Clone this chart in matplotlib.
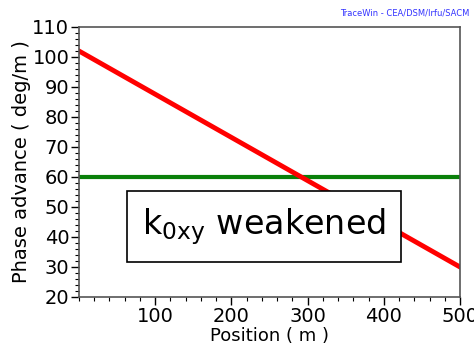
import matplotlib.pyplot as plt
from matplotlib.ticker import MultipleLocator

# data
position = [0, 500]
phase_weakened = [102, 30]
phase_nominal = [60, 60]


def plot_phase_advance():
    fig = plt.figure(figsize=(4.74, 3.55), dpi=100)
    ax = fig.add_axes([79 / 474, 1 - 297 / 355, 381 / 474, 270 / 355])

    ax.plot(position, phase_nominal, color='#0a800a', lw=3)
    ax.plot(position, phase_weakened, color='#ff0000', lw=3.5)

    ax.set_xlim(0, 500)
    ax.set_ylim(20, 110)
    ax.xaxis.set_major_locator(MultipleLocator(100))
    ax.xaxis.set_minor_locator(MultipleLocator(20))
    ax.yaxis.set_major_locator(MultipleLocator(10))
    ax.yaxis.set_minor_locator(MultipleLocator(2))
    ax.set_xticks([100, 200, 300, 400, 500])
    ax.tick_params(which='major', direction='out', length=6, width=1, labelsize=14, pad=1)
    ax.tick_params(which='minor', direction='out', length=3, width=0.8)
    for s in ax.spines.values():
        s.set_color('#555555')
        s.set_linewidth(1.2)

    ax.set_xlabel('Position ( m )', fontsize=13, labelpad=1)
    ax.set_ylabel('Phase advance ( deg/m )', fontsize=14, labelpad=1)

    ax.text(0.485, 0.26, r'k$_{\mathregular{0xy}}$ weakened', transform=ax.transAxes,
            fontsize=24, ha='center', va='center',
            bbox=dict(boxstyle='square,pad=0.45', fc='white', ec='black', lw=1.2))

    fig.text(0.99, 0.975, 'TraceWin - CEA/DSM/Irfu/SACM', color='#3333ff',
             fontsize=6, ha='right', va='top')

    fig.savefig('out.png', dpi=100)


if __name__ == "__main__":
    plot_phase_advance()
